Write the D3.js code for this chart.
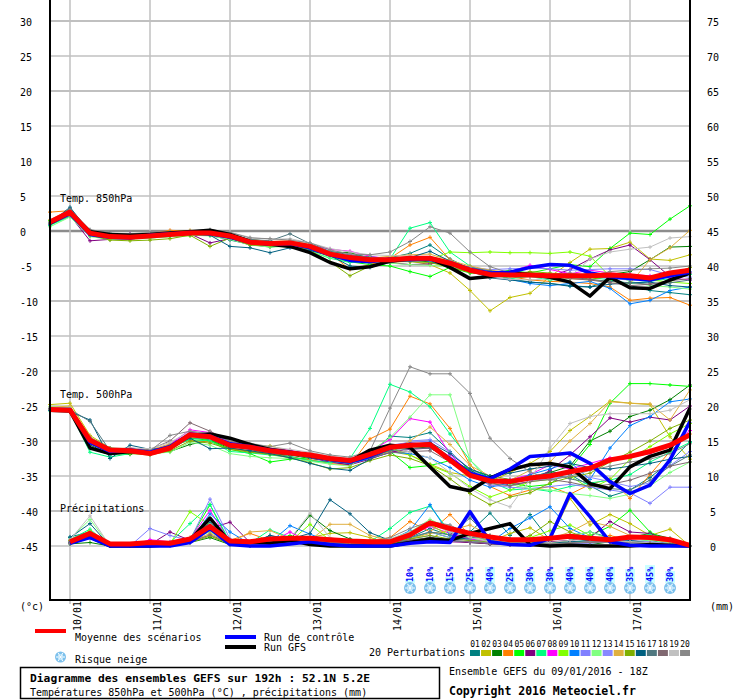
<!DOCTYPE html>
<html lang="fr">
<head>
<meta charset="UTF-8">
<title>Diagramme des ensembles GEFS</title>
<script src="https://d3js.org/d3.v7.min.js"></script>
<style>
  body { margin: 0; background: white; }
  svg { display: block; font-family: "DejaVu Sans Mono", "Liberation Mono", monospace; }
</style>
</head>
<body>
<svg width="740" height="700"></svg>
<script>
// ---- data (6-hourly steps, 0h .. 192h) ----
const dateLabels = ["10/01", "11/01", "12/01", "13/01", "14/01", "15/01", "16/01", "17/01"];
const dateHours = [6, 30, 54, 78, 102, 126, 150, 174];
const leftTicks = [30, 25, 20, 15, 10, 5, 0, -5, -10, -15, -20, -25, -30, -35, -40, -45];
const rightTicks = [75, 70, 65, 60, 55, 50, 45, 40, 35, 30, 25, 20, 15, 10, 5, 0];

const memberIds = ["01","02","03","04","05","06","07","08","09","10","11","12","13","14","15","16","17","18","19","20"];
const memberColors = ["#008080","#c0c000","#008000","#ff8000","#00ff00","#800080","#00ff80","#ff00ff","#80ff00","#0080ff",
                      "#8080ff","#80ff80","#8888ff","#e0b040","#80b000","#006080","#507880","#806870","#c0c0c0","#888888"];

const t850Mean = [1.3,2.7,-0.3,-0.8,-0.9,-0.7,-0.5,-0.3,-0.3,-0.7,-1.6,-1.8,-1.7,-2.2,-3.3,-3.8,-4.1,-4.1,-3.9,-3.9,-4.6,-5.6,-6.2,-6.3,-6.3,-6.4,-6.4,-6.4,-6.3,-6.4,-6.7,-6.0,-5.6];
const t850Control = [1.2,2.5,-0.5,-0.9,-1.0,-0.6,-0.4,-0.2,-0.4,-0.9,-1.6,-1.9,-1.8,-2.4,-3.4,-4.2,-4.4,-4.0,-4.1,-4.0,-4.5,-5.5,-6.0,-5.9,-5.2,-4.8,-4.9,-6.0,-6.5,-6.8,-7.0,-6.4,-5.9];
const t850Gfs = [1.1,2.6,-0.1,-0.5,-0.6,-0.5,-0.3,-0.1,0.1,-0.5,-1.5,-1.9,-2.2,-3.1,-4.5,-5.4,-5.1,-4.3,-4.0,-3.9,-5.2,-6.8,-6.5,-6.0,-6.2,-6.6,-7.3,-9.3,-6.6,-8.1,-8.2,-7.0,-6.0];
const t850Members = [
  [1.0,2.4,-0.6,-1.0,-1.0,-0.8,-0.7,-0.4,-0.6,-1.3,-1.9,-2.3,-2.0,-2.6,-3.6,-4.0,-4.4,-3.8,-3.2,-2.0,-4.0,-5.4,-6.0,-6.8,-7.3,-7.5,-7.8,-8.0,-7.0,-7.8,-8.5,-8.8,-9.1],
  [1.4,2.8,-0.2,-0.7,-0.8,-0.6,-0.5,-0.1,0.0,-0.5,-1.4,-1.6,-1.5,-2.1,-3.2,-4.0,-4.6,-4.5,-4.3,-4.8,-6.0,-8.5,-11.4,-9.5,-8.9,-6.5,-4.5,-2.6,-2.5,-1.6,-4.0,-4.2,-3.4],
  [1.3,2.6,-0.3,-0.9,-1.0,-0.9,-0.6,-0.3,-0.2,-0.8,-1.5,-1.7,-1.8,-2.0,-3.0,-3.1,-3.9,-4.0,-4.2,-4.4,-5.0,-5.8,-6.5,-6.2,-6.0,-6.4,-6.6,-6.0,-6.2,-5.8,-4.1,-2.3,-2.2],
  [2.7,2.9,0.0,-0.4,-0.7,-0.4,0.1,0.0,-0.2,-0.6,-1.2,-1.5,-1.6,-2.2,-3.2,-5.5,-4.8,-3.9,-2.0,-0.9,-4.1,-5.6,-6.0,-6.5,-7.0,-7.2,-7.3,-7.5,-8.0,-9.9,-9.6,-9.5,-10.6],
  [1.5,2.7,-0.4,-0.8,-0.9,-0.8,-0.5,-0.5,-0.3,-0.6,-1.7,-2.0,-1.9,-2.5,-3.7,-4.4,-4.8,-5.0,-5.8,-6.5,-5.2,-6.0,-6.1,-5.6,-6.0,-5.4,-4.8,-5.1,-2.5,-0.3,-0.5,1.7,3.6],
  [0.9,2.2,-1.4,-1.2,-1.0,-0.9,-0.6,-0.4,-1.7,-1.1,-2.0,-2.2,-1.9,-2.5,-3.2,-3.6,-4.0,-4.5,-4.8,-4.7,-4.4,-5.4,-6.0,-6.5,-6.3,-6.5,-5.5,-4.0,-2.7,-2.0,-4.1,-6.5,-6.0],
  [0.8,2.1,-0.7,-1.0,-1.1,-1.0,-0.8,-0.6,-0.5,-1.0,-1.8,-2.1,-2.0,-2.9,-3.9,-4.5,-4.2,-4.0,0.4,1.2,-3.0,-5.0,-6.2,-6.8,-6.5,-7.0,-6.8,-6.6,-7.0,-7.5,-7.2,-6.8,-6.2],
  [1.2,2.6,-0.3,-0.6,-0.4,-0.4,-0.3,-0.2,-0.3,-0.7,-1.6,-1.7,-1.5,-2.0,-2.6,-2.9,-3.6,-4.0,-3.8,-3.9,-4.6,-5.4,-6.0,-5.8,-4.9,-5.5,-6.1,-5.6,-6.0,-6.2,-6.4,-6.7,-7.0],
  [1.1,2.5,-0.4,-0.9,-1.0,-0.9,-0.7,-0.7,-0.5,-0.9,-1.9,-2.2,-2.1,-2.6,-3.4,-4.0,-4.6,-4.2,-4.2,-4.1,-3.0,-3.1,-3.0,-3.1,-3.1,-3.2,-3.0,-3.6,-6.5,-6.8,-7.0,-7.3,-7.5],
  [0.9,2.3,-0.7,-1.1,-1.1,-0.8,-0.6,-0.4,-0.5,-0.9,-1.7,-2.0,-2.0,-2.7,-3.6,-4.2,-4.5,-4.3,-4.0,-4.3,-5.0,-5.8,-6.6,-6.9,-7.5,-7.8,-7.5,-7.2,-8.2,-10.4,-9.9,-8.5,-8.0],
  [1.0,2.4,-0.5,-0.8,-0.8,-0.6,-0.5,-0.2,-0.3,-0.8,-1.5,-1.8,-1.6,-2.1,-3.0,-3.5,-3.7,-3.9,-4.0,-4.1,-4.8,-5.2,-5.5,-5.4,-5.3,-5.4,-5.6,-5.5,-5.4,-5.4,-5.5,-6.3,-6.6],
  [0.6,2.0,-0.8,-1.2,-1.2,-1.0,-0.8,-0.6,-0.7,-1.2,-2.0,-2.3,-2.2,-2.9,-3.8,-4.3,-4.5,-4.6,-4.8,-4.9,-5.1,-5.6,-6.3,-6.6,-6.2,-6.8,-6.2,-6.4,-6.0,-7.2,-7.8,-8.0,-8.3],
  [1.2,2.6,-0.4,-0.7,-0.7,-0.6,-0.4,-0.3,-0.2,-0.6,-1.4,-1.6,-1.7,-2.3,-3.4,-3.9,-4.0,-3.9,-3.8,-3.9,-4.5,-5.4,-5.8,-6.1,-6.5,-6.6,-6.2,-6.5,-6.8,-7.0,-6.9,-6.0,-5.8],
  [1.6,3.0,-0.1,-0.5,-0.6,-0.4,-0.2,0.1,0.0,-0.4,-1.3,-1.5,-1.4,-1.9,-3.0,-3.6,-3.9,-3.6,-3.4,-3.3,-4.2,-5.0,-5.6,-5.9,-6.2,-6.5,-6.8,-7.0,-7.2,-7.5,-4.1,-2.4,0.1],
  [1.3,2.5,-0.6,-1.3,-1.4,-1.3,-1.1,-0.6,-2.2,-1.0,-2.0,-2.1,-2.0,-2.8,-4.4,-6.4,-5.0,-4.3,-4.4,-4.5,-5.2,-5.9,-6.4,-6.3,-5.8,-6.0,-6.3,-6.9,-6.5,-6.8,-7.1,-6.3,-5.2],
  [1.1,3.4,-0.2,-0.6,-0.6,-0.7,-0.6,-0.5,-0.6,-2.2,-2.4,-3.1,-2.4,-2.8,-3.5,-5.0,-5.2,-4.5,-3.8,-2.9,-4.3,-5.6,-6.7,-7.0,-7.3,-7.5,-7.9,-8.0,-7.6,-7.4,-7.3,-7.8,-8.0],
  [1.2,3.2,0.1,-0.3,-0.5,-0.3,-0.2,-0.1,0.1,-0.4,-1.2,-1.4,-0.4,-1.8,-2.9,-3.4,-3.7,-4.0,-4.1,-4.2,-4.5,-5.2,-5.7,-6.0,-6.3,-6.5,-6.6,-6.9,-7.2,-7.4,-7.6,-7.4,-7.0],
  [1.0,2.2,-0.2,-0.6,-0.6,-0.5,-0.4,-0.2,-0.1,-0.5,-1.4,-1.8,-1.9,-2.4,-3.1,-3.7,-4.2,-4.4,-4.2,-4.0,-4.7,-5.5,-6.0,-6.2,-6.3,-6.4,-6.8,-7.0,-7.4,-7.8,-7.6,-7.1,-6.8],
  [1.3,2.8,-0.3,-0.7,-0.6,-0.6,-0.3,-0.2,0.1,-0.2,-0.9,-1.2,-1.1,-1.7,-2.5,-3.0,-3.4,-3.5,-3.6,-3.7,-4.3,-5.3,-6.6,-6.9,-7.0,-6.8,-6.5,-4.0,-3.0,-2.6,-2.3,-1.0,-0.8],
  [1.1,2.9,0.2,-0.3,-0.4,-0.2,-0.1,0.0,0.2,-0.2,-1.0,-1.1,-1.3,-1.7,-2.7,-3.3,-3.4,-3.0,-1.5,0.6,-0.3,-3.0,-5.1,-6.0,-6.2,-6.3,-6.0,-6.4,-5.8,-5.6,-5.4,-5.3,-5.0]
];

const t500Mean = [-25.5,-25.6,-29.9,-31.3,-31.4,-31.8,-31.0,-29.1,-29.4,-30.6,-30.9,-31.4,-31.7,-32.0,-32.5,-32.8,-31.9,-30.9,-30.6,-30.5,-32.7,-34.9,-35.7,-35.8,-35.3,-35.0,-34.4,-33.9,-32.7,-32.2,-31.5,-30.6,-29.1];
const t500Control = [-25.5,-25.5,-30.2,-31.5,-31.3,-31.6,-30.8,-29.0,-29.3,-30.4,-30.8,-31.3,-31.6,-32.0,-32.6,-33.0,-32.2,-31.0,-30.5,-30.6,-32.5,-34.6,-35.4,-34.0,-32.2,-32.0,-31.7,-33.2,-35.8,-37.5,-36.3,-32.7,-27.2];
const t500Gfs = [-25.6,-25.7,-31.0,-31.8,-31.5,-31.7,-30.9,-29.2,-29.0,-29.6,-30.5,-31.2,-31.6,-32.1,-32.6,-32.9,-31.3,-30.6,-30.9,-33.7,-36.5,-37.1,-35.3,-34.1,-33.4,-33.2,-33.7,-36.1,-36.8,-33.7,-32.2,-31.3,-25.3];
const t500Members = [
  [-25.3,-25.4,-31.0,-32.0,-31.6,-31.5,-30.6,-29.5,-29.8,-30.8,-31.2,-31.8,-32.2,-32.8,-33.0,-33.4,-32.0,-29.3,-29.5,-28.8,-31.5,-34.2,-35.6,-35.8,-35.2,-34.4,-34.8,-36.4,-37.9,-37.0,-35.2,-33.0,-30.1],
  [-24.8,-24.6,-29.2,-31.0,-31.2,-31.6,-30.9,-29.4,-29.6,-30.8,-31.0,-30.7,-31.4,-32.2,-32.9,-33.2,-32.5,-31.5,-32.0,-33.3,-34.5,-35.0,-35.8,-34.5,-33.2,-31.5,-28.5,-26.5,-24.3,-24.6,-24.8,-29.4,-32.6],
  [-25.4,-25.5,-30.6,-31.8,-31.9,-31.2,-31.5,-30.5,-29.9,-31.0,-31.5,-31.8,-32.0,-32.5,-32.8,-33.2,-32.0,-31.3,-30.8,-31.0,-32.5,-34.2,-35.0,-35.5,-35.4,-34.5,-33.6,-30.0,-28.6,-26.5,-25.6,-24.1,-22.0],
  [-25.6,-25.7,-29.8,-31.5,-31.4,-31.6,-30.7,-29.9,-30.1,-31.1,-31.4,-31.8,-32.3,-32.7,-33.2,-33.5,-29.7,-28.3,-23.6,-24.7,-28.2,-33.4,-36.5,-37.8,-37.0,-36.5,-37.6,-36.2,-35.4,-38.2,-34.8,-31.5,-29.0],
  [-25.5,-25.6,-30.0,-31.2,-31.5,-31.8,-31.2,-29.6,-29.9,-31.2,-31.8,-33.0,-32.6,-32.4,-32.6,-32.8,-31.8,-31.5,-33.8,-33.5,-32.8,-34.0,-35.2,-36.0,-36.5,-36.2,-34.0,-30.5,-24.6,-21.8,-21.8,-22.0,-22.2],
  [-25.2,-25.3,-30.4,-31.6,-31.4,-31.7,-31.0,-29.3,-29.6,-30.7,-31.0,-31.5,-31.8,-32.4,-33.0,-33.4,-32.6,-31.6,-31.2,-31.0,-32.6,-34.5,-35.6,-36.3,-35.8,-34.2,-32.0,-29.4,-26.7,-27.3,-26.6,-27.0,-25.0],
  [-25.7,-25.8,-31.6,-32.3,-31.8,-31.6,-30.9,-29.8,-30.0,-31.5,-31.7,-32.0,-32.3,-32.8,-33.1,-32.5,-28.2,-21.9,-23.0,-25.1,-29.0,-32.7,-35.8,-37.0,-36.8,-37.2,-36.5,-36.0,-35.6,-34.8,-33.0,-31.6,-30.2],
  [-25.4,-25.4,-29.5,-31.2,-31.0,-31.3,-30.5,-28.4,-28.8,-30.2,-30.6,-31.0,-31.3,-31.9,-32.6,-32.8,-31.5,-29.8,-26.8,-27.3,-31.9,-34.6,-36.0,-35.5,-34.8,-33.4,-34.0,-33.2,-32.4,-32.3,-31.8,-30.6,-28.5],
  [-25.3,-25.2,-29.6,-31.0,-31.3,-31.4,-30.6,-29.4,-29.7,-30.3,-30.8,-31.2,-31.6,-32.2,-32.8,-33.0,-32.2,-31.0,-32.0,-33.5,-34.6,-36.5,-38.0,-37.0,-35.8,-35.5,-35.0,-36.8,-35.5,-32.6,-30.8,-29.0,-27.5],
  [-25.5,-25.6,-30.3,-31.5,-31.6,-31.9,-31.2,-29.5,-29.7,-30.6,-31.2,-31.6,-31.9,-32.3,-32.9,-33.2,-32.5,-31.6,-31.8,-32.4,-33.8,-35.6,-36.6,-36.0,-34.8,-34.0,-33.0,-35.5,-31.0,-27.8,-26.5,-24.4,-24.0],
  [-25.6,-25.7,-30.8,-31.8,-31.5,-31.4,-30.8,-28.8,-29.0,-30.4,-30.9,-31.2,-31.5,-32.0,-32.5,-32.9,-32.0,-30.6,-30.2,-30.0,-32.6,-35.0,-36.3,-36.6,-36.8,-36.5,-36.2,-36.6,-37.0,-37.4,-38.9,-36.6,-36.6],
  [-25.1,-25.2,-30.0,-31.6,-31.7,-31.8,-31.6,-30.2,-30.6,-31.8,-32.2,-32.4,-32.5,-32.9,-33.3,-33.6,-31.5,-29.5,-26.6,-23.4,-23.4,-32.7,-35.4,-36.2,-36.8,-37.0,-37.5,-37.8,-38.2,-37.6,-36.4,-34.5,-33.0],
  [-25.4,-25.5,-30.1,-31.3,-31.2,-31.5,-30.8,-29.0,-29.3,-30.5,-30.9,-31.3,-31.6,-32.0,-32.6,-32.9,-32.0,-31.2,-30.0,-29.8,-31.6,-34.0,-35.5,-35.8,-35.6,-35.4,-35.0,-35.2,-35.8,-36.5,-36.0,-33.5,-31.5],
  [-25.2,-25.0,-29.4,-31.1,-31.0,-31.3,-30.4,-29.5,-29.6,-30.2,-30.5,-31.0,-31.4,-32.0,-32.7,-33.1,-32.3,-31.5,-30.0,-28.0,-30.5,-33.5,-35.0,-35.6,-34.2,-33.0,-30.0,-27.5,-24.4,-24.6,-24.7,-27.0,-22.7],
  [-25.5,-25.4,-30.2,-31.7,-31.8,-32.0,-31.4,-30.0,-30.3,-31.2,-31.6,-31.9,-32.4,-33.1,-34.0,-33.8,-32.8,-32.0,-32.5,-33.5,-35.4,-37.5,-39.1,-38.0,-37.4,-36.0,-35.2,-34.6,-33.0,-31.6,-30.0,-28.2,-27.0],
  [-25.6,-25.8,-27.0,-32.5,-30.6,-31.2,-30.9,-29.6,-31.1,-31.0,-31.4,-31.8,-32.4,-33.2,-33.9,-34.2,-32.6,-31.2,-30.5,-30.2,-31.8,-34.0,-35.0,-34.6,-34.0,-33.6,-33.2,-33.8,-34.0,-33.6,-33.2,-32.6,-32.2],
  [-25.4,-25.5,-27.2,-31.4,-31.3,-31.4,-30.6,-29.1,-29.4,-30.6,-31.0,-31.4,-31.8,-32.2,-32.8,-33.1,-32.2,-31.4,-31.1,-31.0,-32.6,-34.8,-35.9,-35.6,-35.0,-34.6,-35.4,-36.0,-36.8,-37.0,-35.6,-33.6,-32.0],
  [-25.3,-25.4,-29.6,-31.1,-31.2,-31.2,-30.0,-27.4,-28.6,-30.0,-30.6,-31.1,-31.5,-32.0,-32.6,-33.0,-32.4,-31.7,-31.5,-31.4,-33.0,-35.0,-36.1,-36.4,-35.8,-35.5,-35.9,-36.5,-36.2,-35.6,-34.6,-33.6,-33.0],
  [-25.2,-25.3,-29.8,-31.2,-31.0,-31.1,-30.2,-28.6,-28.9,-29.9,-30.3,-30.8,-31.2,-31.6,-32.2,-32.5,-31.6,-30.8,-31.6,-32.4,-34.5,-36.8,-38.4,-39.4,-35.5,-31.0,-27.5,-26.5,-26.1,-26.1,-26.1,-25.6,-24.1],
  [-25.5,-25.6,-29.5,-31.0,-31.1,-31.4,-29.2,-28.6,-29.0,-30.0,-30.4,-30.8,-30.3,-31.4,-32.0,-32.3,-31.4,-25.3,-19.4,-20.4,-20.4,-23.2,-29.6,-32.5,-34.4,-35.6,-35.0,-34.2,-33.6,-33.0,-32.6,-31.8,-30.4]
];

// precipitation in mm (no value at 0h)
const precipMean = [null,0.6,1.8,0.3,0.3,0.5,0.4,1.0,2.8,0.7,0.6,1.0,1.1,1.1,0.9,0.7,0.6,0.6,1.6,3.3,2.5,1.8,1.3,0.9,0.9,1.1,1.4,1.1,0.9,1.3,1.2,0.9,0.1];
const precipControl = [null,0.4,1.2,0,0,0,0,0.5,2.5,0.2,0,0,0.3,0.6,0.2,0,0,0,0.4,0.6,0.5,4.9,0.6,0.2,0.1,1.1,7.5,4.2,0.6,0.1,0,0,0];
const precipGfs = [null,0.5,1.3,0,0,0,0.2,0.8,4.0,0.5,0.6,0.4,0.8,0.2,0,0,0,0,0.5,1.0,0.8,1.8,2.5,3.2,0.2,0,0.1,0,0,0,0.2,0.1,0];
const precipMembers = [
  [null,1.3,2.0,0,0,0,0.2,0.6,3.4,0.5,0.2,1.5,0.8,1.0,0.5,0.3,0.8,0.5,1.2,2.5,1.5,2.0,4.7,1.5,4.5,0.8,1.5,2.0,1.2,0.5,0.8,0.3,0],
  [null,0.6,1.5,0,0,0.1,0.3,0.8,1.5,0.3,0.5,0.8,0.5,1.2,1.8,1.9,1.2,0.4,0.6,1.0,2.5,1.2,0.6,1.8,2.6,0.8,6.8,3.0,4.5,3.2,1.5,2.4,0],
  [null,0.3,0.5,0,0,0,0.2,0.5,1.2,0.2,0,0.6,0.9,4.4,2.2,1.0,0.6,0.3,0.8,1.2,0.8,0.5,0.3,0.2,0.5,0.4,0.3,0.2,0.6,1.2,1.8,1.1,0],
  [null,0.8,1.6,0,0,0,0.2,1.2,2.2,0.8,1.8,0.8,0.6,0.4,0.3,0.5,0.8,1.2,3.5,2.0,4.5,1.5,0.8,0.4,0.3,0.2,0.3,0.6,1.5,0.8,0.5,0.3,0],
  [null,0.5,1.8,0,0,0.2,0.4,1.0,5.9,0.4,0.2,0.6,1.5,0.8,0.4,0.2,0.4,0.6,1.0,2.0,1.2,0.8,0.5,0.3,0.2,0.4,0.8,1.5,2.8,5.1,2.0,0.6,0],
  [null,0.4,1.4,0,0,0.2,2.0,0.8,2.5,3.4,0.5,0.3,0.4,0.6,0.5,0.4,0.3,0.5,0.8,1.0,0.6,0.5,0.3,0.2,0.4,0.6,0.8,1.2,3.5,2.0,1.8,0.6,0],
  [null,0.9,2.4,0,0,0.1,0.5,3.2,5.9,0.6,0.4,2.3,1.2,0.8,0.6,0.4,0.6,2.5,4.8,5.7,2.0,1.0,0.6,0.4,0.2,0.3,0.5,0.8,1.0,1.4,1.6,0.8,0],
  [null,0.7,1.7,0,0,0.9,0.6,1.0,5.1,0.5,0.3,0.5,2.0,0.6,0.4,0.3,0.4,0.6,1.5,2.8,1.8,1.0,0.6,0.3,0.2,0.2,0.4,0.6,0.8,1.0,1.2,0.5,0],
  [null,0.6,2.2,0,0,0.1,0.3,4.9,3.0,0.4,0.2,0.4,0.6,3.1,0.8,0.4,0.5,0.8,2.0,3.0,1.5,0.8,0.5,0.8,1.2,2.2,3.0,1.5,0.6,0.4,0.3,0.2,0],
  [null,0.5,1.2,0,0,0,0.2,0.7,4.6,2.0,0.3,0.5,2.9,1.7,0.6,0.3,0.4,0.8,2.2,5.9,1.5,0.8,0.5,2.5,4.0,5.6,2.5,1.2,0.6,0.4,0.5,0.3,0],
  [null,0.4,1.3,0,0,2.5,1.5,0.8,6.7,1.0,0.3,0.4,0.5,0.6,0.4,0.3,0.4,0.6,1.0,1.5,0.8,0.6,0.4,0.3,0.2,0.2,0.3,0.5,0.8,1.2,1.0,0.4,0],
  [null,1.0,3.8,0,0,0,0.3,1.0,2.0,0.5,0.2,0.6,0.8,0.5,0.3,0.4,0.6,1.0,2.0,3.8,2.5,1.2,0.8,0.5,0.6,0.8,1.5,2.0,1.0,0.6,0.8,0.5,0],
  [null,0.6,1.6,0,0,0.3,0.5,0.9,3.0,0.6,0.2,0.4,0.6,0.7,0.5,0.4,0.3,0.5,1.2,2.0,1.2,0.8,0.5,0.3,0.2,0.2,0.3,0.4,0.6,0.8,0.6,0.3,0],
  [null,0.7,1.9,0,0,0,0.2,0.6,1.8,0.4,2.0,2.2,1.0,0.8,3.1,3.1,1.5,0.8,1.0,1.8,2.2,3.0,1.5,0.8,0.6,1.0,2.0,3.5,2.8,1.5,1.0,0.5,0],
  [null,0.8,1.5,0,0,0,0.1,0.5,1.4,0.3,0.2,0.4,0.5,0.6,0.4,0.3,0.5,0.6,1.0,1.5,1.0,0.8,0.6,0.4,1.5,3.5,2.0,1.0,0.8,0.5,0.4,0.2,0],
  [null,1.2,3.2,0,0,0,0.1,0.6,2.5,0.8,0.4,1.5,1.0,1.8,6.6,4.6,1.9,0.8,0.6,1.0,0.8,1.2,1.5,1.0,0.6,0.4,0.6,0.8,1.0,0.8,0.4,0.3,0],
  [null,0.5,1.8,0,0,0,0.2,0.7,3.8,0.6,0.3,0.5,0.6,0.8,1.0,0.6,0.5,0.6,1.2,2.0,1.6,4.0,1.2,0.6,0.4,0.3,0.5,0.6,0.8,0.6,0.4,0.2,0],
  [null,0.4,1.2,0,0,0,0.2,0.5,1.6,0.4,0.2,0.3,0.5,0.6,0.5,0.3,0.4,0.5,0.8,1.2,0.8,0.6,0.4,0.3,0.2,0.3,0.4,0.5,0.6,0.5,0.4,0.2,0],
  [null,0.9,4.3,0,0,0,0.3,1.2,2.6,0.8,0.4,0.6,1.0,4.7,1.2,0.6,0.8,1.0,2.0,3.2,2.0,1.2,0.6,0.4,0.3,0.5,0.8,1.0,0.8,0.6,0.5,0.3,0],
  [null,0.6,2.0,0,0,0,0.2,0.8,2.2,0.5,0.3,0.5,0.7,1.0,0.8,0.5,0.6,1.2,2.5,3.5,3.0,1.5,0.8,0.5,0.4,0.3,0.4,0.6,0.5,0.4,0.3,0.2,0]
];

// snow risk (%) from 14/01 06Z
const snowHours = [108, 114, 120, 126, 132, 138, 144, 150, 156, 162, 168, 174, 180, 186];
const snowPct = [10, 10, 15, 25, 40, 25, 30, 30, 40, 40, 40, 35, 45, 30];

// ---- drawing ----
const svg = d3.select("svg");
svg.append("rect").attr("width", 740).attr("height", 700).attr("fill", "white");

const x = d3.scaleLinear().domain([0, 192]).range([50, 690]);
const y = d3.scaleLinear().domain([-45, 30]).range([546, 21]);
const yMm = d3.scaleLinear().domain([0, 75]).range([546, 21]);

// grid
const grid = svg.append("g");
grid.selectAll("line.h").data(leftTicks).enter().append("line")
  .attr("x1", 50).attr("x2", 690)
  .attr("y1", d => y(d)).attr("y2", d => y(d))
  .attr("stroke", d => d === 0 ? "#8c8c8c" : "#c0c0c0")
  .attr("stroke-width", d => d === 0 ? 2.5 : (d % 10 === 0 ? 2 : 1.3));
grid.selectAll("line.v").data(dateHours).enter().append("line")
  .attr("x1", d => x(d)).attr("x2", d => x(d))
  .attr("y1", 0).attr("y2", 604)
  .attr("stroke", "#c0c0c0").attr("stroke-width", 1.5);

// axis labels
svg.append("g").selectAll("text").data(leftTicks).enter().append("text")
  .attr("x", 20).attr("y", d => y(d) + 5)
  .attr("font-size", 10).text(d => d);
svg.append("g").selectAll("text").data(rightTicks).enter().append("text")
  .attr("x", 713).attr("y", d => yMm(d) + 5)
  .attr("text-anchor", "middle").attr("font-size", 10).text(d => d);

svg.selectAll("text.date").data(dateLabels).enter().append("text")
  .attr("transform", (d, i) => `translate(${x(dateHours[i]) + 11},631) rotate(-90)`)
  .attr("font-size", 10).text(d => d);

svg.append("text").attr("x", 20).attr("y", 610).attr("font-size", 10).text("(°c)");
svg.append("text").attr("x", 710).attr("y", 610).attr("font-size", 10).text("(mm)");

// section titles
svg.append("text").attr("x", 60).attr("y", 202).attr("font-size", 10).text("Temp. 850hPa");
svg.append("text").attr("x", 60).attr("y", 398).attr("font-size", 10).text("Temp. 500hPa");
svg.append("text").attr("x", 60).attr("y", 512).attr("font-size", 10).text("Précipitations");

// lines
const lineT = d3.line().defined(d => d != null).x((d, i) => x(i * 6)).y(d => y(d));
const lineP = d3.line().defined(d => d != null).x((d, i) => x(i * 6)).y(d => yMm(d));

const plot = svg.append("g");
function drawMember(values, gen, scale, color) {
  plot.append("path").attr("d", gen(values)).attr("fill", "none")
    .attr("stroke", color).attr("stroke-width", 1);
  plot.append("g").selectAll("path")
    .data(values.map((v, i) => [i, v]).filter(p => p[1] != null))
    .enter().append("path")
    .attr("d", p => `M${x(p[0] * 6) - 2},${scale(p[1])}h4M${x(p[0] * 6)},${scale(p[1]) - 2}v4`)
    .attr("stroke", color).attr("stroke-width", 1);
}
memberColors.forEach((c, k) => {
  drawMember(t850Members[k], lineT, y, c);
  drawMember(t500Members[k], lineT, y, c);
  drawMember(precipMembers[k], lineP, yMm, c);
});

function drawMain(values, gen, color, w) {
  plot.append("path").attr("d", gen(values)).attr("fill", "none")
    .attr("stroke", color).attr("stroke-width", w).attr("stroke-linejoin", "round");
}
[[t850Gfs, lineT], [t500Gfs, lineT], [precipGfs, lineP]].forEach(s => drawMain(s[0], s[1], "#000000", 3.5));
[[t850Control, lineT], [t500Control, lineT], [precipControl, lineP]].forEach(s => drawMain(s[0], s[1], "#0000ff", 3.5));
[[t850Mean, lineT], [t500Mean, lineT], [precipMean, lineP]].forEach(s => drawMain(s[0], s[1], "#ff0000", 5));

// frame
svg.append("path").attr("d", "M50,0V600H690V0").attr("fill", "none")
  .attr("stroke", "black").attr("stroke-width", 2);

// snowflake icon
function flake(g, cx, cy, r) {
  const f = g.append("g").attr("transform", `translate(${cx},${cy})`);
  f.append("circle").attr("r", r).attr("fill", "#7cc0ec");
  [0, 60, 120].forEach(a => {
    f.append("line").attr("x1", -r + 1).attr("x2", r - 1).attr("y1", 0).attr("y2", 0)
      .attr("transform", `rotate(${a})`).attr("stroke", "white").attr("stroke-width", 1);
  });
  f.append("circle").attr("r", r * 0.45).attr("fill", "none").attr("stroke", "#c8ecff").attr("stroke-width", 1);
}

const snow = svg.append("g");
snowPct.forEach((p, i) => {
  const cx = x(snowHours[i]);
  snow.append("rect").attr("x", cx - 5).attr("width", 10)
    .attr("y", 583 - p * 0.4).attr("height", p * 0.4).attr("fill", "#ccffff");
  snow.append("text").attr("transform", `translate(${cx + 3},582) rotate(-90)`)
    .attr("font-size", 8.5).attr("font-weight", "bold").attr("fill", "#0000ff").text(p + "%");
  flake(snow, cx, 588, 6);
});

// legend
const leg = svg.append("g").attr("font-size", 10);
leg.append("rect").attr("x", 35).attr("y", 629).attr("width", 31).attr("height", 4).attr("fill", "#ff0000");
leg.append("text").attr("x", 75).attr("y", 641).text("Moyenne des scénarios");
leg.append("rect").attr("x", 225).attr("y", 635).attr("width", 31).attr("height", 4).attr("fill", "#0000ff");
leg.append("text").attr("x", 264).attr("y", 641).text("Run de contrôle");
leg.append("rect").attr("x", 225).attr("y", 645).attr("width", 31).attr("height", 4).attr("fill", "#000000");
leg.append("text").attr("x", 264).attr("y", 651).text("Run GFS");
flake(leg, 60.5, 657, 5.5);
leg.append("text").attr("x", 75).attr("y", 663).text("Risque neige");

leg.append("text").attr("x", 369).attr("y", 656).text("20 Perturbations");
const boxX = d3.scaleBand().domain(memberIds).range([470, 690]).paddingInner(0.1);
leg.selectAll("rect.m").data(memberIds).enter().append("rect")
  .attr("x", d => boxX(d)).attr("y", 650).attr("width", boxX.bandwidth()).attr("height", 6)
  .attr("fill", (d, i) => memberColors[i]);
leg.selectAll("text.m").data(memberIds).enter().append("text")
  .attr("x", d => boxX(d) + boxX.bandwidth() / 2).attr("y", 647)
  .attr("text-anchor", "middle").attr("font-size", 8).text(d => d);

leg.append("rect").attr("x", 20.5).attr("y", 667.5).attr("width", 419).attr("height", 31)
  .attr("fill", "none").attr("stroke", "black").attr("stroke-width", 1.5);
leg.append("text").attr("x", 30).attr("y", 682).attr("font-weight", "bold").attr("font-size", 11.3)
  .text("Diagramme des ensembles GEFS sur 192h : 52.1N 5.2E");
leg.append("text").attr("x", 30).attr("y", 696)
  .text("Températures 850hPa et 500hPa (°C) , précipitations (mm)");
leg.append("text").attr("x", 449).attr("y", 675).text("Ensemble GEFS du 09/01/2016 - 18Z");
leg.append("text").attr("x", 449).attr("y", 695).attr("font-weight", "bold").attr("font-size", 11.5)
  .text("Copyright 2016 Meteociel.fr");
</script>
</body>
</html>
